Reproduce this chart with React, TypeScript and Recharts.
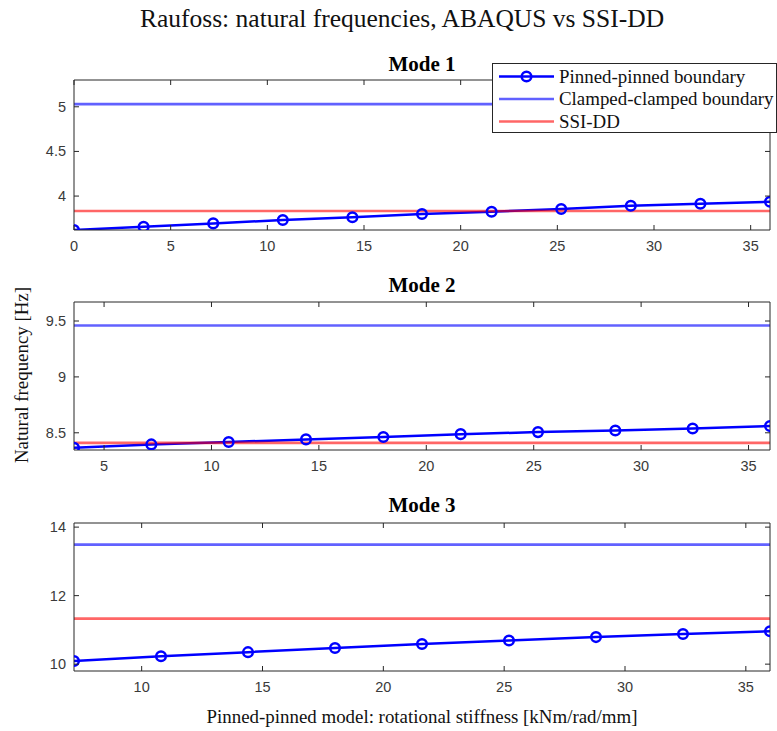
import React from 'react';
import { LineChart, Line, XAxis, YAxis, ReferenceLine } from 'recharts';

// ---- data ----
const stiffness = [0, 3.6, 7.2, 10.8, 14.4, 18, 21.6, 25.2, 28.8, 32.4, 36];
const mode1Pinned = [3.62, 3.657, 3.694, 3.732, 3.762, 3.8, 3.825, 3.855, 3.892, 3.914, 3.936];
const mode2Stiffness = [3.6, 7.2, 10.8, 14.4, 18, 21.6, 25.2, 28.8, 32.4, 36];
const mode2Pinned = [8.366, 8.396, 8.417, 8.441, 8.462, 8.488, 8.506, 8.521, 8.539, 8.56];
const mode3Stiffness = [7.2, 10.8, 14.4, 18, 21.6, 25.2, 28.8, 32.4, 36];
const mode3Pinned = [10.09, 10.23, 10.35, 10.47, 10.59, 10.69, 10.79, 10.88, 10.96];
const clampedValues = [5.03, 9.46, 13.49];
const ssiValues = [3.832, 8.41, 11.33];
const modeTitles = ['Mode 1', 'Mode 2', 'Mode 3'];
const xTicks1 = [0, 5, 10, 15, 20, 25, 30, 35];
const xTicks2 = [5, 10, 15, 20, 25, 30, 35];
const xTicks3 = [10, 15, 20, 25, 30, 35];
const yTicks1 = [4, 4.5, 5];
const yTicks2 = [8.5, 9, 9.5];
const yTicks3 = [10, 12, 14];
const legendLabels = ['Pinned-pinned boundary', 'Clamped-clamped boundary', 'SSI-DD'];
const chartTitle = 'Raufoss: natural frequencies, ABAQUS vs SSI-DD';
const xLabel = 'Pinned-pinned model: rotational stiffness [kNm/rad/mm]';
const yLabel = 'Natural frequency [Hz]';

// ---- styles ----
const AX = '#262626';
const PIN = '#0000ff';
const CLAMP = 'rgba(0,0,255,0.62)';
const SSI = 'rgba(255,0,0,0.6)';
const SERIF = "'Liberation Serif', 'Times New Roman', serif";
const SANS = "'Liberation Sans', Arial, sans-serif";
const TICK_LEN = 5;
const PIN_W = 2.5;
const DOT_R = 4.8;

const tickText = { fontFamily: SANS, fontSize: 14.5, fill: '#3a3a3a' } as const;

function BottomTick(props: any) {
  const { x, y, payload } = props;
  return (
    <g>
      <line x1={x} x2={x} y1={y} y2={y - TICK_LEN} stroke={AX} strokeWidth={1} />
      <text x={x} y={y + 21} textAnchor="middle" {...tickText}>{payload.value}</text>
    </g>
  );
}
function TopTick(props: any) {
  const { x, y } = props;
  return <line x1={x} x2={x} y1={y} y2={y + TICK_LEN} stroke={AX} strokeWidth={1} />;
}
function LeftTick(props: any) {
  const { x, y, payload } = props;
  return (
    <g>
      <line x1={x} x2={x + TICK_LEN} y1={y} y2={y} stroke={AX} strokeWidth={1} />
      <text x={x - 8} y={y + 5} textAnchor="end" {...tickText}>{payload.value}</text>
    </g>
  );
}
function RightTick(props: any) {
  const { x, y } = props;
  return <line x1={x} x2={x - TICK_LEN} y1={y} y2={y} stroke={AX} strokeWidth={1} />;
}

type PanelProps = {
  top: number;
  height: number;
  xs: number[];
  ys: number[];
  xDomain: [number, number];
  yDomain: [number, number];
  xTicks: number[];
  yTicks: number[];
  clamped: number;
  ssi: number;
};

function Panel({ top, height, xs, ys, xDomain, yDomain, xTicks, yTicks, clamped, ssi }: PanelProps) {
  const data = xs.map((x, i) => ({ x, f: ys[i] }));
  return (
    <div style={{ position: 'absolute', left: 0, top, width: 777, height }}>
      <LineChart width={777} height={height} data={data} margin={{ top: 39, right: 6, bottom: 0, left: 0 }}>
        <XAxis
          xAxisId="b"
          type="number"
          dataKey="x"
          domain={xDomain}
          ticks={xTicks}
          allowDataOverflow
          interval={0}
          height={30}
          tickSize={0}
          tickMargin={0}
          tickLine={false}
          axisLine={{ stroke: AX, strokeWidth: 1 }}
          tick={BottomTick}
        />
        <XAxis
          xAxisId="t"
          orientation="top"
          type="number"
          dataKey="x"
          domain={xDomain}
          ticks={xTicks}
          allowDataOverflow
          interval={0}
          height={1}
          tickSize={0}
          tickMargin={0}
          tickLine={false}
          axisLine={{ stroke: AX, strokeWidth: 1 }}
          tick={TopTick}
        />
        <YAxis
          yAxisId="l"
          type="number"
          domain={yDomain}
          ticks={yTicks}
          allowDataOverflow
          interval={0}
          width={74}
          tickSize={0}
          tickMargin={0}
          tickLine={false}
          axisLine={{ stroke: AX, strokeWidth: 1 }}
          tick={LeftTick}
        />
        <YAxis
          yAxisId="r"
          orientation="right"
          type="number"
          domain={yDomain}
          ticks={yTicks}
          allowDataOverflow
          interval={0}
          width={1}
          tickSize={0}
          tickMargin={0}
          tickLine={false}
          axisLine={{ stroke: AX, strokeWidth: 1 }}
          tick={RightTick}
        />
        <Line
          xAxisId="t"
          yAxisId="r"
          dataKey="f"
          stroke="none"
          dot={false}
          activeDot={false}
          isAnimationActive={false}
        />
        <Line
          xAxisId="b"
          yAxisId="l"
          type="linear"
          dataKey="f"
          stroke={PIN}
          strokeWidth={PIN_W}
          dot={{ r: DOT_R, stroke: PIN, strokeWidth: PIN_W, fill: 'none' }}
          activeDot={false}
          isAnimationActive={false}
        />
        <ReferenceLine xAxisId="b" yAxisId="l" y={clamped} stroke={CLAMP} strokeWidth={2.6} />
        <ReferenceLine xAxisId="b" yAxisId="l" y={ssi} stroke={SSI} strokeWidth={2.6} />
      </LineChart>
    </div>
  );
}

function LegendBox() {
  return (
    <div
      style={{
        position: 'absolute',
        left: 492,
        top: 63,
        width: 283,
        height: 68,
        border: `1px solid ${AX}`,
        background: '#fff',
      }}
    >
      <svg width={283} height={68} style={{ position: 'absolute', left: 0, top: 0 }}>
        {[PIN, CLAMP, SSI].map((c, i) => {
          const cy = 12.5 + i * 22.5;
          return (
            <g key={i}>
              <line x1={6} x2={61} y1={cy} y2={cy} stroke={c} strokeWidth={i === 0 ? PIN_W : 2.6} />
              {i === 0 && <circle cx={33.5} cy={cy} r={DOT_R} stroke={PIN} strokeWidth={PIN_W} fill="none" />}
              <text x={66} y={cy + 6} fontFamily={SERIF} fontSize={18.9} fill="#111">
                {legendLabels[i]}
              </text>
            </g>
          );
        })}
      </svg>
    </div>
  );
}

export default function App() {
  return (
    <div style={{ position: 'absolute', left: 0, top: 0, width: 777, height: 731, background: '#fff', overflow: 'hidden' }}>
      <Panel
        top={40}
        height={220}
        xs={stiffness}
        ys={mode1Pinned}
        xDomain={[0, 36]}
        yDomain={[3.62, 5.3]}
        xTicks={xTicks1}
        yTicks={yTicks1}
        clamped={clampedValues[0]}
        ssi={ssiValues[0]}
      />
      <Panel
        top={262}
        height={218}
        xs={mode2Stiffness}
        ys={mode2Pinned}
        xDomain={[3.6, 36]}
        yDomain={[8.346, 9.67]}
        xTicks={xTicks2}
        yTicks={yTicks2}
        clamped={clampedValues[1]}
        ssi={ssiValues[1]}
      />
      <Panel
        top={483}
        height={218}
        xs={mode3Stiffness}
        ys={mode3Pinned}
        xDomain={[7.2, 36]}
        yDomain={[9.8, 14.12]}
        xTicks={xTicks3}
        yTicks={yTicks3}
        clamped={clampedValues[2]}
        ssi={ssiValues[2]}
      />
      <svg width={777} height={731} style={{ position: 'absolute', left: 0, top: 0, pointerEvents: 'none' }}>
        <text x={402} y={27} textAnchor="middle" fontFamily={SERIF} fontSize={25.5} fill="#111">
          {chartTitle}
        </text>
        {modeTitles.map((t, i) => (
          <text
            key={t}
            x={422}
            y={[71, 292, 512][i]}
            textAnchor="middle"
            fontFamily={SERIF}
            fontWeight="bold"
            fontSize={21}
            fill="#000"
          >
            {t}
          </text>
        ))}
        <text
          x={0}
          y={0}
          transform="translate(28,375) rotate(-90)"
          textAnchor="middle"
          fontFamily={SERIF}
          fontSize={18.9}
          fill="#111"
        >
          {yLabel}
        </text>
        <text x={422} y={723} textAnchor="middle" fontFamily={SERIF} fontSize={18.9} fill="#111">
          {xLabel}
        </text>
      </svg>
      <LegendBox />
    </div>
  );
}
